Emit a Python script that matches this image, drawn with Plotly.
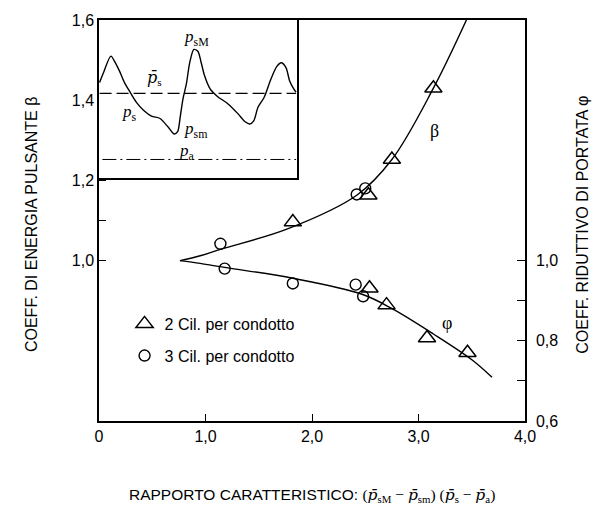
import plotly.graph_objects as go

# ---------------- data ----------------
# beta (coeff. di energia pulsante) measurements
beta_tri_x = [1.82, 2.53, 2.75, 3.14]
beta_tri_y = [1.096, 1.163, 1.252, 1.43]
beta_cir_x = [1.14, 2.42, 2.50]
beta_cir_y = [1.042, 1.165, 1.18]
# phi (coeff. riduttivo di portata) measurements
phi_tri_x = [2.54, 2.70, 3.08, 3.46]
phi_tri_y = [0.931, 0.889, 0.807, 0.77]
phi_cir_x = [1.18, 1.82, 2.41, 2.48]
phi_cir_y = [0.98, 0.943, 0.94, 0.911]
# fitted curves
beta_fit_x = [0.76, 0.95, 1.14, 1.77, 2.42, 2.75, 3.14, 3.45]
beta_fit_y = [1.0, 1.012, 1.028, 1.079, 1.163, 1.252, 1.43, 1.60]
phi_fit_x = [0.76, 0.95, 1.18, 1.82, 2.47, 2.76, 3.14, 3.51, 3.69]
phi_fit_y = [1.0, 0.993, 0.983, 0.956, 0.916, 0.879, 0.817, 0.751, 0.709]

# inset: pressure waveform (normalised time / pressure)
wave_t = [0.003, 0.026, 0.060, 0.082, 0.103, 0.128, 0.154, 0.188, 0.222, 0.265,
          0.308, 0.350, 0.379, 0.397, 0.410, 0.424, 0.441, 0.458, 0.479, 0.499,
          0.516, 0.533, 0.561, 0.598, 0.650, 0.701, 0.738, 0.761, 0.781, 0.803,
          0.834, 0.868, 0.897, 0.920, 0.944, 0.962, 0.983, 0.995]
wave_p = [0.604, 0.677, 0.771, 0.729, 0.677, 0.604, 0.548, 0.479, 0.431, 0.390,
          0.375, 0.319, 0.277, 0.292, 0.385, 0.500, 0.594, 0.729, 0.813, 0.802,
          0.729, 0.646, 0.563, 0.515, 0.469, 0.406, 0.354, 0.340, 0.360, 0.448,
          0.510, 0.625, 0.704, 0.729, 0.698, 0.615, 0.563, 0.542]
ps_mean_t = [0.003, 0.995]
ps_mean_p = [0.535, 0.535]
pa_t = [0.017, 0.995]
pa_p = [0.115, 0.115]

left_tickvals = [1.0, 1.1, 1.2, 1.3, 1.4, 1.5, 1.6]
left_ticktext = ["1,0", "", "1,2", "", "1,4", "", "1,6"]
right_tickvals = [0.6, 0.7, 0.8, 0.9, 1.0]
right_ticktext = ["0,6", "", "0,8", "", "1,0"]
x_tickvals = [0, 1, 2, 3, 4]
x_ticktext = ["0", "1,0", "2,0", "3,0", "4,0"]

SANS = "Liberation Sans, Arial, sans-serif"
SERIF = "Liberation Serif, Times New Roman, serif"
PBAR = "<span style='font-family:DejaVu Serif'><i>p\u0304</i></span>"

fig = go.Figure()

line_style = dict(color="black", width=1.4, shape="spline", smoothing=1.0)
fig.add_trace(go.Scatter(x=beta_fit_x, y=beta_fit_y, mode="lines", line=line_style,
                         showlegend=False, hoverinfo="skip"))
fig.add_trace(go.Scatter(x=phi_fit_x, y=phi_fit_y, mode="lines", line=line_style,
                         showlegend=False, hoverinfo="skip", yaxis="y2"))

tri = dict(symbol="triangle-up-open", size=15, color="black", line=dict(width=1.5, color="black"))
cir = dict(symbol="circle-open", size=11, color="black", line=dict(width=1.4, color="black"))

fig.add_trace(go.Scatter(x=beta_tri_x, y=beta_tri_y, mode="markers", marker=tri,
                         name="2 Cil. per condotto", legend="legend"))
fig.add_trace(go.Scatter(x=phi_tri_x, y=phi_tri_y, mode="markers", marker=tri,
                         showlegend=False, yaxis="y2"))
fig.add_trace(go.Scatter(x=beta_cir_x, y=beta_cir_y, mode="markers", marker=cir,
                         name="3 Cil. per condotto", legend="legend2"))
fig.add_trace(go.Scatter(x=phi_cir_x, y=phi_cir_y, mode="markers", marker=cir,
                         showlegend=False, yaxis="y2"))

# inset
fig.add_trace(go.Scatter(x=wave_t, y=wave_p, mode="lines", xaxis="x3", yaxis="y3",
                         line=dict(color="black", width=1.4, shape="spline", smoothing=0.8),
                         showlegend=False, hoverinfo="skip"))
fig.add_trace(go.Scatter(x=ps_mean_t, y=ps_mean_p, mode="lines", xaxis="x3", yaxis="y3",
                         line=dict(color="black", width=1.2, dash="12px,5px"),
                         showlegend=False, hoverinfo="skip"))
fig.add_trace(go.Scatter(x=pa_t, y=pa_p, mode="lines", xaxis="x3", yaxis="y3",
                         line=dict(color="black", width=1.0, dash="14px,4px,2px,4px"),
                         showlegend=False, hoverinfo="skip"))

ann = []
def pl(txt, x, y, size=17):
    ann.append(dict(text=txt, x=x, y=y, xref="x3", yref="y3", showarrow=False,
                    font=dict(family=SERIF, size=size, color="black")))

pl("<i>p</i><sub>sM</sub>", 0.49, 0.885)
pl(PBAR + "<sub>s</sub>", 0.28, 0.63, size=16)
pl("<i>p</i><sub>s</sub>", 0.155, 0.41)
pl("<i>p</i><sub>sm</sub>", 0.49, 0.30)
pl("<i>p</i><sub>a</sub>", 0.445, 0.165)

ann.append(dict(text="β", x=3.15, y=1.323, xref="x", yref="y", showarrow=False,
                font=dict(family=SERIF, size=18, color="black")))
ann.append(dict(text="φ", x=3.27, y=0.844, xref="x", yref="y", showarrow=False,
                font=dict(family=SERIF, size=18, color="black")))

ann.append(dict(text="COEFF. DI ENERGIA PULSANTE β", textangle=-90, x=-0.183, y=0.49,
                xref="paper", yref="paper", showarrow=False,
                font=dict(family=SANS, size=16, color="black")))
ann.append(dict(text="COEFF. RIDUTTIVO DI PORTATA φ", textangle=-90, x=1.159, y=0.49,
                xref="paper", yref="paper", showarrow=False,
                font=dict(family=SANS, size=16, color="black")))
title_math = ("<span style='font-family:Liberation Serif'>(" + PBAR + "<sub>sM</sub> − "
              + PBAR + "<sub>sm</sub>) (" + PBAR + "<sub>s</sub> − " + PBAR + "<sub>a</sub>)</span>")
ann.append(dict(text="RAPPORTO CARATTERISTICO: " + title_math,
                x=0.5, y=-0.185, xref="paper", yref="paper", showarrow=False, yanchor="middle",
                font=dict(family=SANS, size=15.5, color="black")))

axis_common = dict(showgrid=False, zeroline=False, showline=True, linecolor="black",
                   linewidth=1.5, ticks="inside", tickcolor="black", tickwidth=1.3,
                   tickfont=dict(family=SANS, size=16, color="black"))

legend_common = dict(font=dict(family=SANS, size=16, color="black"), bgcolor="rgba(0,0,0,0)",
                     xanchor="left", yanchor="middle", itemwidth=30)

fig.update_layout(
    width=608, height=513,
    margin=dict(l=99, r=83, t=16, b=92),
    paper_bgcolor="white", plot_bgcolor="white",
    xaxis=dict(range=[0, 4], tickvals=x_tickvals, ticktext=x_ticktext, mirror=True,
               ticklen=7, **axis_common),
    yaxis=dict(range=[0.6, 1.6], tickvals=left_tickvals, ticktext=left_ticktext,
               ticklen=7, **axis_common),
    yaxis2=dict(range=[0.6, 1.6], tickvals=right_tickvals, ticktext=right_ticktext,
                overlaying="y", side="right", anchor="x", ticklen=8,
                ticklabelstandoff=6, **axis_common),
    xaxis3=dict(domain=[0, 0.465], range=[0, 1], anchor="y3", showgrid=False,
                zeroline=False, showline=True, linecolor="black", linewidth=1.5,
                showticklabels=False, ticks=""),
    yaxis3=dict(domain=[0.607, 1], range=[0, 1], anchor="x3", side="right",
                showgrid=False, zeroline=False, showline=True, linecolor="black",
                linewidth=1.5, showticklabels=False, ticks=""),
    legend=dict(x=0.06, y=0.242, **legend_common),
    legend2=dict(x=0.06, y=0.163, **legend_common),
    annotations=ann,
)

fig.write_html("out.html")
